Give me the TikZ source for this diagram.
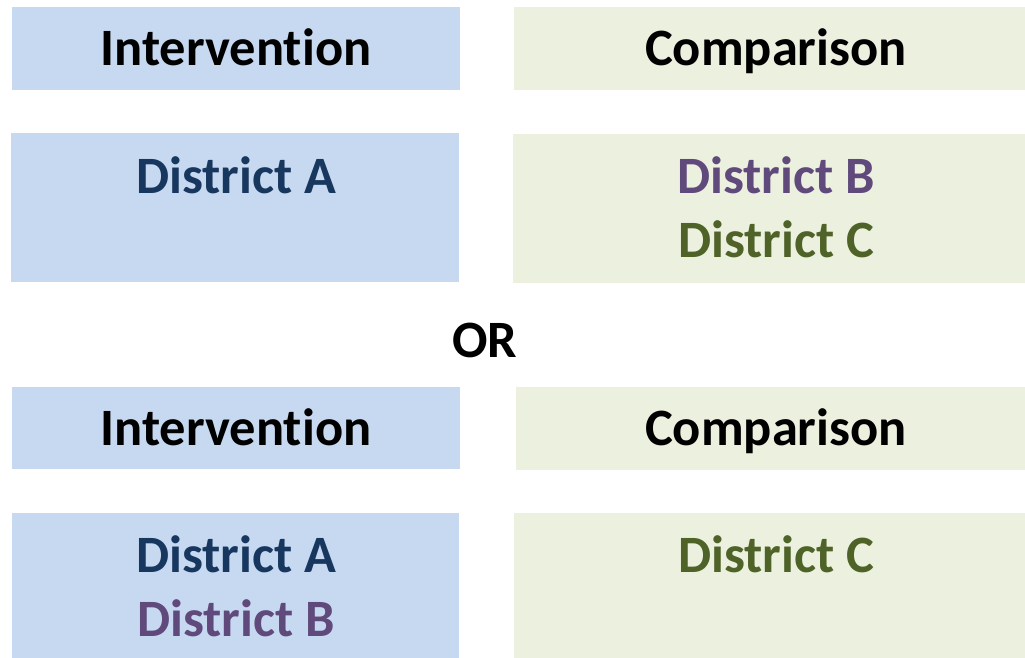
\documentclass[tikz,border=0pt]{standalone}
\usepackage{fontspec}
\setmainfont{Carlito}[Ligatures=NoCommon]
\usepackage{xcolor}
\usepackage{tikz}

\begin{document}
\begin{tikzpicture}[x=1pt, y=-1pt,
    panel/.style={inner sep=0pt, outer sep=0pt, anchor=north west},
    interpanel/.style={panel, fill=interfill},
    comppanel/.style={panel, fill=compfill},
    label/.style={font=\fontsize{52.5}{62}\selectfont\bfseries, inner sep=0pt, anchor=base}]
    % Colors
    \definecolor{interfill}{HTML}{C6D9F1}
    \definecolor{compfill}{HTML}{EBF1DE}
    \definecolor{districtA}{HTML}{17375E}
    \definecolor{districtB}{HTML}{604A7B}
    \definecolor{districtC}{HTML}{4F6228}

    % Dimensions
    \def\interleft{12}
    \def\compleft{514}
    \def\intercx{236}
    \def\compcx{776}

    \useasboundingbox (0,0) rectangle (1025,658);

    % First option
    \node[interpanel, minimum width=448, minimum height=83] (interHeadA) at (\interleft,7) {};
    \node[comppanel, minimum width=511, minimum height=83] (compHeadA) at (\compleft,7) {};
    \node[interpanel, minimum width=448, minimum height=149] (interBodyA) at (11,133) {};
    \node[comppanel, minimum width=512, minimum height=149] (compBodyA) at (513,134) {};

    \node[label] (interTitleA) at (\intercx,66) {Intervention};
    \node[label] (compTitleA) at (\compcx,66) {Comparison};
    \node[label, text=districtA] (interDistA) at (\intercx,193) {District A};
    \node[label, text=districtB] (compDistB) at (\compcx,193) {District B};
    \node[label, text=districtC] (compDistC) at (\compcx,257) {District C};

    % Separator
    \node[label] (orText) at (485,357) {OR};

    % Second option
    \node[interpanel, minimum width=448, minimum height=82] (interHeadB) at (\interleft,387) {};
    \node[comppanel, minimum width=509, minimum height=83] (compHeadB) at (516,387) {};
    \node[interpanel, minimum width=447, minimum height=145] (interBodyB) at (\interleft,513) {};
    \node[comppanel, minimum width=511, minimum height=145] (compBodyB) at (\compleft,513) {};

    \node[label] (interTitleB) at (\intercx,445) {Intervention};
    \node[label] (compTitleB) at (\compcx,445) {Comparison};
    \node[label, text=districtA] (interDistAB) at (\intercx,572) {District A};
    \node[label, text=districtB] (interDistB) at (\intercx,636) {District B};
    \node[label, text=districtC] (compDistCB) at (\compcx,572) {District C};
\end{tikzpicture}
\end{document}
